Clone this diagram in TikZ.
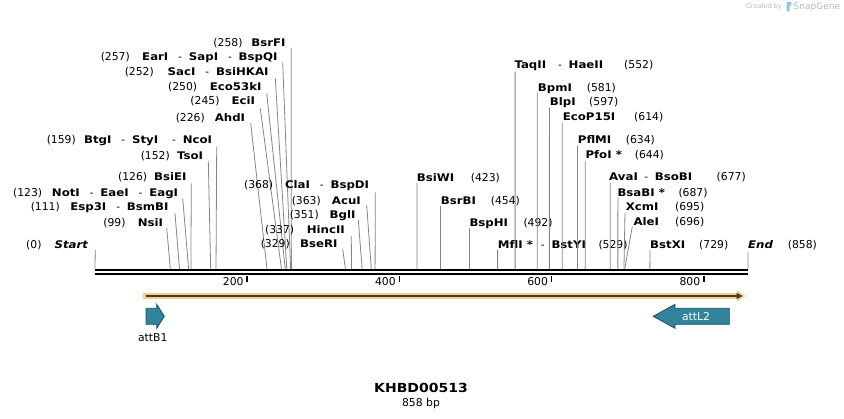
\documentclass[tikz,border=0pt]{standalone}
\usepackage{fontspec}
\newfontfamily\rf{DejaVu Sans}
\newfontfamily\bff[FakeStretch=1.12]{DejaVu Sans}
\usetikzlibrary{calc}
\definecolor{lnkc}{HTML}{858585}
\definecolor{teal}{HTML}{31849B}
\definecolor{tealdk}{HTML}{1F4E5C}
\definecolor{orfill}{HTML}{F9D07F}
\definecolor{darkc}{HTML}{3A3A3A}
\definecolor{sgray}{HTML}{B8B8B8}
\definecolor{sblue}{HTML}{86C8EA}
\tikzset{
  nm/.style={font={\fontsize{10.5}{12}\bff\bfseries}, inner sep=0pt},
  nu/.style={font={\fontsize{10.8}{12}\rf}, inner sep=0pt},
  lnk/.style={draw=lnkc, line width=0.8pt},
  feat/.style={fill=teal, draw=tealdk, line width=0.8pt, line join=miter},
}
\newcommand\ds[1][0pt]{\hspace{\dimexpr 0.95em+#1\relax}{\rf\mdseries -}\hspace{0.65em}}
% left-side label: id, name, number, name right x, number right x, y centre, line start x, line start y
\newcommand\enzL[8]{%
  \node[nm,anchor=base east] (n#1) at (#4,#6+3.8) {#2};
  \node[nu,anchor=base east] (m#1) at (#5,#6+3.8) {(#3)};
  \coordinate (s#1) at (#7,#8);
  \coordinate (c#1) at ({95+#3*0.7611},269);
  \draw[lnk] (s#1) -- (c#1);}
% right-side label: id, name, number, name left x, number left x, y centre, line start x, line start y
\newcommand\enzR[8]{%
  \node[nm,anchor=base west] (n#1) at (#4,#6+3.8) {#2};
  \node[nu,anchor=base west] (m#1) at (#5,#6+3.8) {(#3)};
  \coordinate (s#1) at (#7,#8);
  \coordinate (c#1) at ({95+#3*0.7611},269);
  \draw[lnk] (s#1) -- (c#1);}
\begin{document}
\begin{tikzpicture}[x=1pt,y=-1pt]
\useasboundingbox (0,0) rectangle (844,419);
% sequence
\coordinate (sqA) at (95,270.2);
\coordinate (sqB) at (748,270.2);
\coordinate (sqC) at (95,274.3);
\coordinate (sqD) at (748,274.3);
\draw[line width=2.4pt] (sqA) -- (sqB);
\draw[line width=2.4pt] (sqC) -- (sqD);
\foreach \p in {200,400,600,800}{
  \draw[line width=1.5pt] ({95+\p*0.7611},276) -- ({95+\p*0.7611},282.5);
  \node[nu,anchor=base east] (t\p) at ({95+\p*0.7611-3.5},285.2) {\p};
}
% left labels
\enzL{st}{\itshape Start}{0}{88.3}{41.7}{245}{95.2}{250}
\enzL{a}{NsiI}{99}{163.3}{125.7}{222.7}{166.7}{227.7}
\enzL{b}{Esp3I\ds BsmBI}{111}{168.7}{60}{206.7}{175}{213.3}
\enzL{c}{NotI\ds EaeI\ds EagI}{123}{178.3}{42.3}{192.7}{182.7}{198.3}
\enzL{d}{BsiEI}{126}{186.7}{147.3}{176.7}{191.3}{183.3}
\enzL{e}{TsoI}{152}{203.3}{170}{156}{208.3}{161}
\enzL{f}{BtgI\ds StyI\ds[4pt]NcoI}{159}{212.3}{76}{139.3}{216.7}{146.7}
\enzL{g}{AhdI}{226}{245.3}{205}{117.3}{250.7}{123.3}
\enzL{h}{EciI}{245}{255.3}{219.7}{101}{260.3}{108.3}
\enzL{i}{Eco53kI}{250}{261.7}{197.3}{86.7}{266.7}{93.3}
\enzL{j}{SacI\ds BsiHKAI}{252}{268.7}{154}{71.7}{275.3}{78.3}
\enzL{k}{EarI\ds SapI\ds BspQI}{257}{277.7}{130}{56.7}{282.7}{62.3}
\enzL{l}{BsrFI}{258}{285.7}{242.7}{42.3}{291.2}{48}
\enzL{m}{ClaI\ds BspDI}{368}{369.3}{273.3}{185}{375.3}{192.3}
\enzL{n}{AcuI}{363}{361}{321}{200.7}{366.7}{205}
\enzL{o}{BglI}{351}{355.7}{319}{215}{358.3}{220}
\enzL{p}{HincII}{337}{345}{294.3}{230}{351.3}{236}
\enzL{q}{BseRI}{329}{337.7}{290}{244}{342.7}{249}
% right labels
\enzR{r}{BsiWI}{423}{416.7}{470.7}{177.3}{417}{182.7}
\enzR{s}{BsrBI}{454}{440.7}{490.7}{200.7}{440.5}{206}
\enzR{t}{BspHI}{492}{469.3}{523.3}{222.7}{469.5}{228.3}
\enzR{u}{MflI *\ds[-2pt]BstYI}{529}{497.7}{598.3}{244.3}{497.6}{250}
\enzR{v}{TaqII\ds[2pt]HaeII}{552}{514.3}{624}{65}{515.1}{71.7}
\enzR{w}{BpmI}{581}{537.7}{586.7}{87.3}{537.2}{92.7}
\enzR{x}{BlpI}{597}{549.7}{589}{101.7}{549.4}{107.7}
\enzR{y}{EcoP15I}{614}{562.7}{634}{116.7}{562.3}{122.7}
\enzR{z}{PflMI}{634}{577.7}{625.7}{140}{577.5}{146}
\enzR{aa}{PfoI *}{644}{585.3}{634.7}{155}{585.2}{161}
\enzR{ab}{AvaI\ds[-3.5pt]BsoBI}{677}{609}{716.5}{176.7}{610.3}{182.7}
\enzR{ac}{BsaBI *}{687}{617.3}{678.3}{192.3}{617.9}{197.3}
\enzR{ad}{XcmI}{695}{625.7}{675}{207}{625}{212.3}
\enzR{ae}{AleI}{696}{633.3}{675}{221.7}{632.3}{226.7}
\enzR{af}{BstXI}{729}{650}{699}{245}{650}{250}
\enzR{ag}{\itshape End}{858}{748}{787.7}{245}{748}{251.7}
% orange feature
\fill[orfill] (143.3,293.3) rectangle (739,298.7);
\fill[orfill] (737,290.3) -- (745.5,296) -- (737,301.7) -- cycle;
\draw[darkc, line width=2pt] (145.5,296) -- (738,296);
\fill[darkc] (736.5,292.8) -- (742.5,296) -- (736.5,299.2) -- cycle;
% attB1
\draw[feat] (146,308.3) -- (156.7,308.3) -- (156.7,304.3) -- (164.3,316.3) -- (156.7,328.3) -- (156.7,324.3) -- (146,324.3) -- cycle;
\node[nu] (lb1) at (152.7,338) {attB1};
% attL2
\draw[feat] (729.3,308.3) -- (675,308.3) -- (675,304.3) -- (653.3,316.3) -- (675,328.3) -- (675,324.3) -- (729.3,324.3) -- cycle;
\node[nu, text=white] (lb2) at (696,316.3) {attL2};
% title
\node[font={\fontsize{12.5}{14}\bff\bfseries}, inner sep=0pt, anchor=base] (ttl) at (421,392.9) {KHBD00513};
\node[nu, anchor=base] (bp) at (421,406.3) {858 bp};
% credit
\node[font={\fontsize{6.5}{8}\rf}, text=sgray, inner sep=0pt, anchor=base west] (cr1) at (746,9) {Created by};
\fill[sblue] (786.5,2) -- (791.5,2) .. controls (792.5,4) and (791,6) .. (789.5,6.5) -- (789.5,11.5) -- (786.5,11.5) -- cycle;
\node[font={\fontsize{9}{10}\rf}, text=sgray, inner sep=0pt, anchor=base west] (cr2) at (793.5,10) {SnapGene};
\end{tikzpicture}
\end{document}
